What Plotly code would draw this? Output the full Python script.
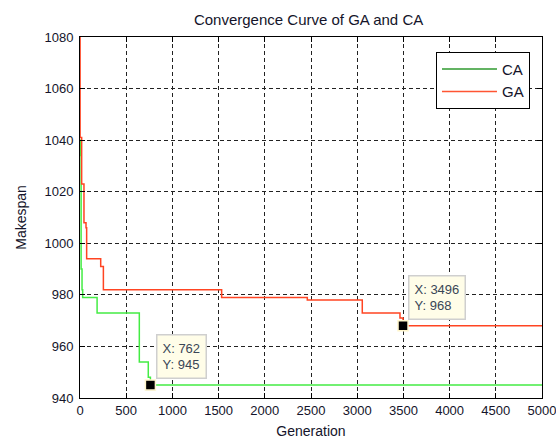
import plotly.graph_objects as go

# ---- data ----
ga_gen = [0, 1, 18, 43, 65, 72, 224, 253, 1533, 2460, 3055, 3463, 3496, 5000]
ga_val = [1080, 1041, 1023, 1008, 1006, 994, 991, 982, 979, 978, 973, 971, 968, 968]

ca_gen = [0, 8, 12, 22, 29, 185, 642, 739, 762, 5000]
ca_val = [1040, 1034, 990, 982, 979, 973, 954, 948, 945, 945]

tip_x = [762, 3496]
tip_y = [945, 968]

x_ticks = [0, 500, 1000, 1500, 2000, 2500, 3000, 3500, 4000, 4500, 5000]
y_ticks = [940, 960, 980, 1000, 1020, 1040, 1060, 1080]

FONT = "Arial, Liberation Sans, sans-serif"
TXT = "#14142a"

fig = go.Figure()

fig.add_trace(go.Scatter(x=ca_gen, y=ca_val, mode="lines", line_shape="hv",
                         line=dict(color="#44ec44", width=1.5), showlegend=False, hoverinfo="skip"))
fig.add_trace(go.Scatter(x=ga_gen, y=ga_val, mode="lines", line_shape="hv",
                         line=dict(color="#ff4422", width=1.5), showlegend=False, hoverinfo="skip"))
# legend entries
fig.add_trace(go.Scatter(x=[None], y=[None], mode="lines", name="CA",
                         line=dict(color="#2f9a2f", width=1.5)))
fig.add_trace(go.Scatter(x=[None], y=[None], mode="lines", name="GA",
                         line=dict(color="#ff5533", width=1.5)))
# datatip markers
fig.add_trace(go.Scatter(x=tip_x, y=tip_y, mode="markers", showlegend=False, hoverinfo="skip",
                         marker=dict(symbol="square", size=10, color="black",
                                     line=dict(color="#fff6cc", width=1.5))))

# datatip boxes
tip_pos = [(822, 964.8), (3550, 987.7)]
for (tx, ty), vx, vy in zip(tip_pos, tip_x, tip_y):
    fig.add_annotation(x=tx, y=ty, xref="x", yref="y", xanchor="left", yanchor="top",
                       text=f"X: {vx}<br>Y: {vy}", showarrow=False, align="left",
                       bgcolor="#fffde8", bordercolor="#cfcfcf", borderwidth=1.5, borderpad=5,
                       font=dict(family=FONT, size=13, color="#3a4656"))

axis_common = dict(showline=True, linecolor="black", linewidth=1, mirror="ticks",
                   ticks="inside", ticklen=5, tickcolor="black",
                   showgrid=True, gridcolor="#222222", gridwidth=1, griddash="4px,3px",
                   zeroline=False, ticklabeloverflow="allow",
                   tickfont=dict(family=FONT, size=13, color=TXT))

fig.update_xaxes(range=[0, 5000], tickvals=x_ticks, ticktext=[str(v) for v in x_ticks],
                 title=dict(text="Generation", font=dict(family=FONT, size=14, color=TXT), standoff=9),
                 **axis_common)
fig.update_yaxes(range=[940, 1080], tickvals=y_ticks, ticktext=[str(v) for v in y_ticks],
                 ticklabelstandoff=3,
                 title=dict(text="Makespan", font=dict(family=FONT, size=14, color=TXT), standoff=14),
                 **axis_common)

fig.update_layout(
    width=556, height=441,
    margin=dict(l=80, r=14, t=37, b=43, autoexpand=False),
    paper_bgcolor="white", plot_bgcolor="white",
    title=dict(text="Convergence Curve of GA and CA", x=0.555, xref="container", xanchor="center",
               y=1 - 20 / 441, yref="container", yanchor="middle",
               font=dict(family=FONT, size=15, color=TXT)),
    legend=dict(x=0.974, y=0.959, xanchor="right", yanchor="top", bgcolor="white",
                bordercolor="black", borderwidth=1, font=dict(family=FONT, size=15, color=TXT),
                tracegroupgap=0, itemwidth=55),
    font=dict(family=FONT, color=TXT),
    hovermode=False,
)

fig.write_html("out.html", config={"displayModeBar": False},
               post_script="document.body.style.margin='0';document.body.style.overflow='hidden';")
